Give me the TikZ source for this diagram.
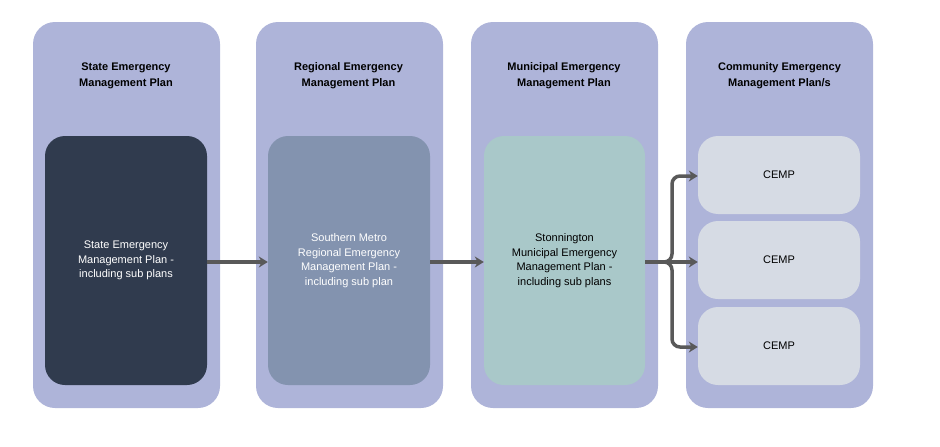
\documentclass[tikz,border=0pt]{standalone}
\usepackage{fontspec}
\setmainfont{Liberation Sans}
\usetikzlibrary{arrows.meta}
\definecolor{lav}{HTML}{AEB4D9}
\definecolor{c1}{HTML}{303B4E}
\definecolor{c2}{HTML}{8393AF}
\definecolor{c3}{HTML}{A9C8C9}
\definecolor{c4}{HTML}{D6DBE4}
\definecolor{arr}{HTML}{595959}
\begin{document}
\begin{tikzpicture}[x=1pt,y=-1pt,
 outer/.style={fill=lav,draw=none,rounded corners=22pt},
 inner/.style={draw=none,rounded corners=20pt,align=center,font=\fontsize{11}{14.5}\selectfont},
 ttl/.style={align=center,font=\bfseries\fontsize{11}{16}\selectfont},
 ar/.style={draw=arr,line width=3.5pt,-{Stealth[length=9pt,width=11pt]}}]
\useasboundingbox (0,0) rectangle (940,447);
\foreach \x/\n in {33/o1,256/o2,471/o3,686/o4}{
 \path[outer] (\x,22) rectangle ++(187,386);}
\node[ttl] (t1) at (126,76) {State Emergency\\Management Plan};
\node[ttl] (t2) at (348.5,76) {Regional Emergency\\Management Plan};
\node[ttl] (t3) at (564,76) {Municipal Emergency\\Management Plan};
\node[ttl] (t4) at (779.5,76) {Community Emergency\\Management Plan/s};
\node[inner,fill=c1,text=white,minimum width=162pt,minimum height=249pt] (a) at (126,260.5) {State Emergency\\Management Plan -\\including sub plans};
\node[inner,fill=c2,text=white,minimum width=162pt,minimum height=249pt] (b) at (349,260.5) {Southern Metro\\Regional Emergency\\Management Plan -\\including sub plan};
\node[inner,fill=c3,text=black,minimum width=161pt,minimum height=249pt] (c) at (564.5,260.5) {Stonnington\\Municipal Emergency\\Management Plan -\\including sub plans};
\node[inner,fill=c4,minimum width=162pt,minimum height=78pt] (d1) at (779,175) {CEMP};
\node[inner,fill=c4,minimum width=162pt,minimum height=78pt] (d2) at (779,260) {CEMP};
\node[inner,fill=c4,minimum width=162pt,minimum height=78pt] (d3) at (779,346) {CEMP};
\draw[ar] (a.east|-0,262) -- (b.west|-0,262);
\draw[ar] (b.east|-0,262) -- (c.west|-0,262);
\coordinate (j) at (672,262);
\draw[ar] (c.east|-0,262) -- (d2.west|-0,262);
\draw[ar,rounded corners=8pt] (c.east|-0,262) -- (j) -- (672,176) -- (d1.west|-0,176);
\draw[ar,rounded corners=8pt] (c.east|-0,262) -- (j) -- (672,347) -- (d3.west|-0,347);
\end{tikzpicture}
\end{document}
